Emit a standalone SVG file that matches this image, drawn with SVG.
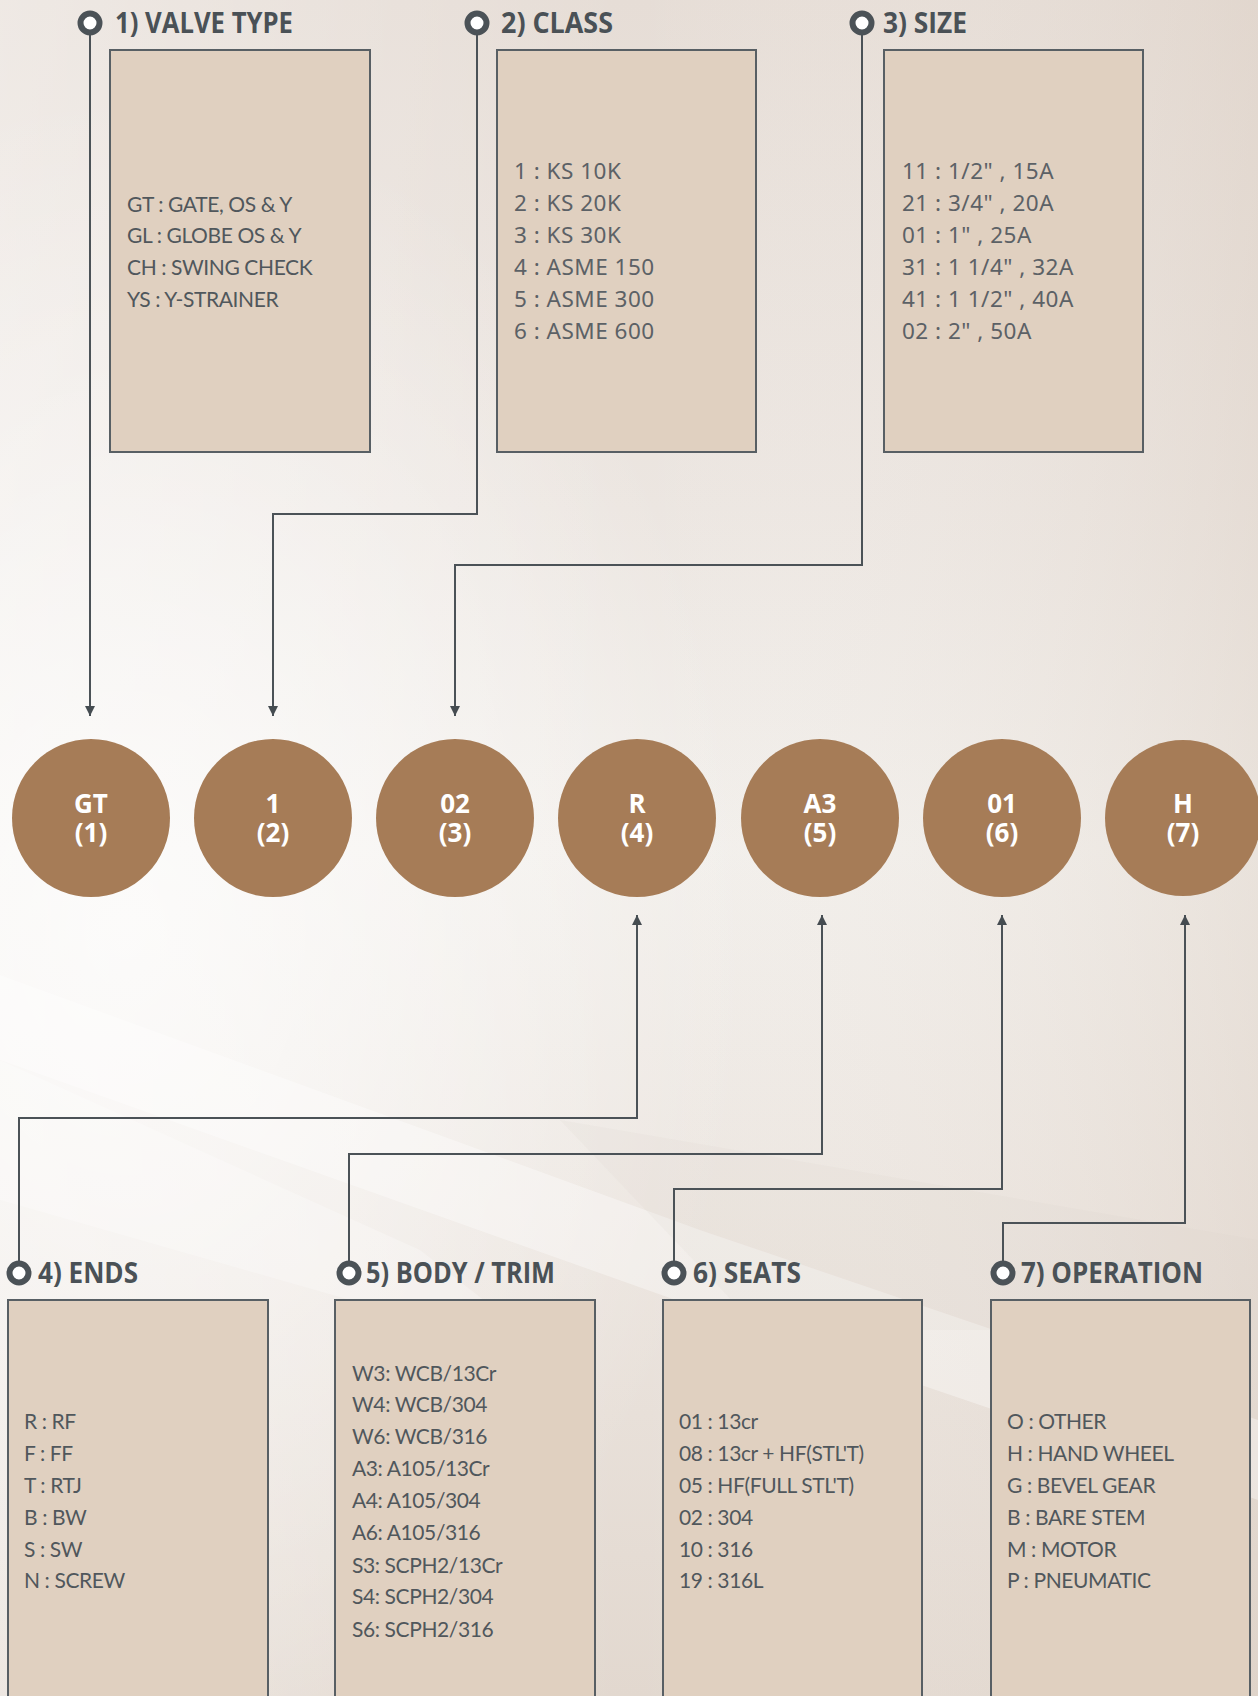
<svg xmlns="http://www.w3.org/2000/svg" width="1258" height="1696" viewBox="0 0 1258 1696">
<defs>
<linearGradient id="bgV" x1="0" y1="0" x2="0" y2="1">
<stop offset="0" stop-color="#e6ddd6"/>
<stop offset="0.3" stop-color="#ece6e1"/>
<stop offset="0.5" stop-color="#f2efeb"/>
<stop offset="0.75" stop-color="#ebe4de"/>
<stop offset="1" stop-color="#e2d8cf"/>
</linearGradient>
<linearGradient id="bgH" x1="0" y1="0" x2="1" y2="0">
<stop offset="0" stop-color="#ffffff" stop-opacity="0.35"/>
<stop offset="0.5" stop-color="#ffffff" stop-opacity="0"/>
<stop offset="1" stop-color="#d9cbbf" stop-opacity="0.35"/>
</linearGradient>
<radialGradient id="glow" cx="0.1" cy="0.55" r="0.5">
<stop offset="0" stop-color="#ffffff" stop-opacity="0.7"/>
<stop offset="1" stop-color="#ffffff" stop-opacity="0"/>
</radialGradient>
<marker id="arr" viewBox="0 0 10 10" refX="10" refY="5" markerWidth="11" markerHeight="10" markerUnits="userSpaceOnUse" orient="auto">
<path d="M0,0 L10,5 L0,10 z" fill="#454c51"/>
</marker>
<style>
.box{fill:#e0d0c0;stroke:#585f64;stroke-width:2}
.ring{fill:#ffffff;stroke:#4b5257;stroke-width:6}
.hdr{font-family:"Open Sans","Liberation Sans",sans-serif;font-weight:700;font-size:28px;fill:#4a5156}
.t1{font-family:Lato,"Open Sans","Liberation Sans",sans-serif;font-size:21px;fill:#50575c;letter-spacing:-0.4px}
.t2{font-family:"Noto Sans","Open Sans",sans-serif;font-size:22.5px;fill:#5c6166;letter-spacing:0.5px}
.cir{fill:#a67c57}
.ct{font-family:"Open Sans","Liberation Sans",sans-serif;font-weight:700;font-size:26px;fill:#ffffff;text-anchor:middle}
.con{fill:none;stroke:#4b5257;stroke-width:2}
</style>
</defs>
<rect width="1258" height="1696" fill="url(#bgV)"/>
<rect width="1258" height="1696" fill="url(#bgH)"/>
<rect width="1258" height="1696" fill="url(#glow)"/>
<polygon points="0,975 0,1060 760,1330 1258,1500 1258,1420 700,1230" fill="#ffffff" opacity="0.35"/>
<polygon points="0,1060 0,1200 560,1360 420,1250" fill="#ffffff" opacity="0.25"/>
<polygon points="560,1120 1258,1240 1258,1330 760,1330" fill="#d8cdc4" opacity="0.12"/>

<g id="connectors">
<path class="con" d="M90,23 V716" marker-end="url(#arr)"/>
<path class="con" d="M477,23 V514 H273 V716" marker-end="url(#arr)"/>
<path class="con" d="M862,23 V565 H455 V716" marker-end="url(#arr)"/>
<path class="con" d="M19,1273 V1118 H637 V915" marker-end="url(#arr)"/>
<path class="con" d="M349,1273 V1154 H822 V915" marker-end="url(#arr)"/>
<path class="con" d="M674,1273 V1189 H1002 V915" marker-end="url(#arr)"/>
<path class="con" d="M1003,1273 V1223 H1185 V915" marker-end="url(#arr)"/>
</g>

<g id="valve-type">
<circle class="ring" cx="90" cy="23" r="9.5"/>
<text class="hdr" x="115" y="33" textLength="178" lengthAdjust="spacingAndGlyphs">1) VALVE TYPE</text>
<rect class="box" x="110" y="50" width="260" height="402"/>
<text class="t1" x="127" y="212">GT : GATE, OS &amp; Y</text>
<text class="t1" x="127" y="243">GL : GLOBE OS &amp; Y</text>
<text class="t1" x="127" y="275">CH : SWING CHECK</text>
<text class="t1" x="127" y="307">YS : Y-STRAINER</text>
</g>

<g id="class">
<circle class="ring" cx="477" cy="23" r="9.5"/>
<text class="hdr" x="501" y="33" textLength="112" lengthAdjust="spacingAndGlyphs">2) CLASS</text>
<rect class="box" x="497" y="50" width="259" height="402"/>
<text class="t2" x="514" y="179">1 : KS 10K</text>
<text class="t2" x="514" y="211">2 : KS 20K</text>
<text class="t2" x="514" y="243">3 : KS 30K</text>
<text class="t2" x="514" y="275">4 : ASME 150</text>
<text class="t2" x="514" y="307">5 : ASME 300</text>
<text class="t2" x="514" y="339">6 : ASME 600</text>
</g>

<g id="size">
<circle class="ring" cx="862" cy="23" r="9.5"/>
<text class="hdr" x="883" y="33" textLength="84" lengthAdjust="spacingAndGlyphs">3) SIZE</text>
<rect class="box" x="884" y="50" width="259" height="402"/>
<text class="t2" x="902" y="179">11 : 1/2" , 15A</text>
<text class="t2" x="902" y="211">21 : 3/4" , 20A</text>
<text class="t2" x="902" y="243">01 : 1" , 25A</text>
<text class="t2" x="902" y="275">31 : 1 1/4" , 32A</text>
<text class="t2" x="902" y="307">41 : 1 1/2" , 40A</text>
<text class="t2" x="902" y="339">02 : 2" , 50A</text>
</g>

<g id="c1"><circle class="cir" cx="91" cy="818" r="79"/><text class="ct" x="91" y="813">GT<tspan x="91" dy="29">(1)</tspan></text></g>
<g id="c2"><circle class="cir" cx="273" cy="818" r="79"/><text class="ct" x="273" y="813">1<tspan x="273" dy="29">(2)</tspan></text></g>
<g id="c3"><circle class="cir" cx="455" cy="818" r="79"/><text class="ct" x="455" y="813">02<tspan x="455" dy="29">(3)</tspan></text></g>
<g id="c4"><circle class="cir" cx="637" cy="818" r="79"/><text class="ct" x="637" y="813">R<tspan x="637" dy="29">(4)</tspan></text></g>
<g id="c5"><circle class="cir" cx="820" cy="818" r="79"/><text class="ct" x="820" y="813">A3<tspan x="820" dy="29">(5)</tspan></text></g>
<g id="c6"><circle class="cir" cx="1002" cy="818" r="79"/><text class="ct" x="1002" y="813">01<tspan x="1002" dy="29">(6)</tspan></text></g>
<g id="c7"><circle class="cir" cx="1183" cy="818" r="78"/><text class="ct" x="1183" y="813">H<tspan x="1183" dy="29">(7)</tspan></text></g>

<g id="ends">
<circle class="ring" cx="19" cy="1273" r="9.5"/>
<text class="hdr" x="38" y="1283" textLength="100" lengthAdjust="spacingAndGlyphs">4) ENDS</text>
<rect class="box" x="8" y="1300" width="260" height="420"/>
<text class="t1" x="24" y="1429">R : RF</text>
<text class="t1" x="24" y="1461">F : FF</text>
<text class="t1" x="24" y="1493">T : RTJ</text>
<text class="t1" x="24" y="1525">B : BW</text>
<text class="t1" x="24" y="1557">S : SW</text>
<text class="t1" x="24" y="1588">N : SCREW</text>
</g>

<g id="body-trim">
<circle class="ring" cx="349" cy="1273" r="9.5"/>
<text class="hdr" x="366" y="1283" textLength="189" lengthAdjust="spacingAndGlyphs">5) BODY / TRIM</text>
<rect class="box" x="335" y="1300" width="260" height="420"/>
<text class="t1" x="352" y="1381">W3: WCB/13Cr</text>
<text class="t1" x="352" y="1412">W4: WCB/304</text>
<text class="t1" x="352" y="1444">W6: WCB/316</text>
<text class="t1" x="352" y="1476">A3: A105/13Cr</text>
<text class="t1" x="352" y="1508">A4: A105/304</text>
<text class="t1" x="352" y="1540">A6: A105/316</text>
<text class="t1" x="352" y="1573">S3: SCPH2/13Cr</text>
<text class="t1" x="352" y="1604">S4: SCPH2/304</text>
<text class="t1" x="352" y="1637">S6: SCPH2/316</text>
</g>

<g id="seats">
<circle class="ring" cx="674" cy="1273" r="9.5"/>
<text class="hdr" x="693" y="1283" textLength="108" lengthAdjust="spacingAndGlyphs">6) SEATS</text>
<rect class="box" x="663" y="1300" width="259" height="420"/>
<text class="t1" x="679" y="1429">01 : 13cr</text>
<text class="t1" x="679" y="1461">08 : 13cr + HF(STL'T)</text>
<text class="t1" x="679" y="1493">05 : HF(FULL STL'T)</text>
<text class="t1" x="679" y="1525">02 : 304</text>
<text class="t1" x="679" y="1557">10 : 316</text>
<text class="t1" x="679" y="1588">19 : 316L</text>
</g>

<g id="operation">
<circle class="ring" cx="1003" cy="1273" r="9.5"/>
<text class="hdr" x="1021" y="1283" textLength="182" lengthAdjust="spacingAndGlyphs">7) OPERATION</text>
<rect class="box" x="991" y="1300" width="259" height="420"/>
<text class="t1" x="1007" y="1429">O : OTHER</text>
<text class="t1" x="1007" y="1461">H : HAND WHEEL</text>
<text class="t1" x="1007" y="1493">G : BEVEL GEAR</text>
<text class="t1" x="1007" y="1525">B : BARE STEM</text>
<text class="t1" x="1007" y="1557">M : MOTOR</text>
<text class="t1" x="1007" y="1588">P : PNEUMATIC</text>
</g>
</svg>
